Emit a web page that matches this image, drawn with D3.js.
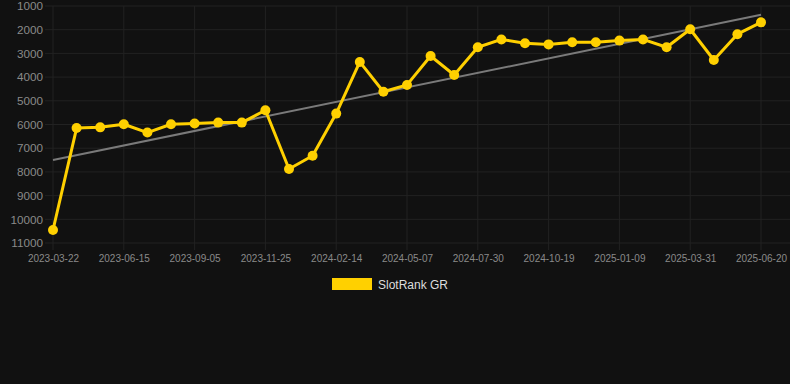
<!DOCTYPE html>
<html>
<head>
<meta charset="utf-8">
<script src="https://cdn.jsdelivr.net/npm/d3@7"></script>
<style>
  html, body { margin: 0; padding: 0; background: #111111; }
  svg { display: block; font-family: "Liberation Sans", Arial, sans-serif; }
</style>
</head>
<body>
<svg id="chart" width="790" height="384"></svg>
<script>
// dates, one per point (labels shown on every third)
const dates = [
  '2023-03-22', '2023-04-19', '2023-05-18', '2023-06-15', '2023-07-12', '2023-08-09',
  '2023-09-05', '2023-10-02', '2023-10-29', '2023-11-25', '2023-12-22', '2024-01-18',
  '2024-02-14', '2024-03-12', '2024-04-09', '2024-05-07', '2024-06-04', '2024-07-02',
  '2024-07-30', '2024-08-26', '2024-09-22', '2024-10-19', '2024-11-15', '2024-12-12',
  '2025-01-09', '2025-02-05', '2025-03-04', '2025-03-31', '2025-04-27', '2025-05-24',
  '2025-06-20'
];
const rank = [
  10450, 6150, 6120, 5990, 6340, 5990, 5960, 5920, 5920, 5400,
  7880, 7320, 5540, 3360, 4620, 4330, 3110, 3910, 2740, 2410,
  2570, 2620, 2530, 2530, 2460, 2410, 2740, 1980, 3280, 2190,
  1690
];
const trend = [7500, 1370];   // start / end of trend line
const yTicks = [1000, 2000, 3000, 4000, 5000, 6000, 7000, 8000, 9000, 10000, 11000];
const seriesName = 'SlotRank GR';

const color = {
  line: '#ffd000',
  trend: '#7a7a7a',
  grid: '#222222',
  tick: '#8a8a8a',
  legend: '#dddddd'
};

const width = 790, height = 384;
const margin = { top: 6, right: 29, bottom: 141, left: 53 };

const svg = d3.select('#chart');

const x = d3.scalePoint(dates, [margin.left, width - margin.right]);
const y = d3.scaleLinear([1000, 11000], [margin.top, height - margin.bottom]);

// grid
const grid = svg.append('g').attr('class', 'grid');
grid.selectAll('.hline')
  .data(yTicks)
  .join('line')
    .attr('x1', margin.left - 8)
    .attr('x2', width)
    .attr('y1', d => y(d))
    .attr('y2', d => y(d))
    .attr('stroke', color.grid)
    .attr('stroke-width', 1);

const shownDates = dates.filter((d, i) => i % 3 === 0);
grid.selectAll('.vline')
  .data(shownDates)
  .join('line')
    .attr('x1', d => x(d))
    .attr('x2', d => x(d))
    .attr('y1', margin.top)
    .attr('y2', height - margin.bottom + 7)
    .attr('stroke', color.grid)
    .attr('stroke-width', 1);

// y axis
const yAxis = d3.axisLeft(y).tickValues(yTicks).tickSize(0).tickPadding(10).tickFormat(d3.format('d'));
svg.append('g')
  .attr('transform', `translate(${margin.left}, 0)`)
  .call(yAxis)
  .call(g => g.select('.domain').remove())
  .call(g => g.selectAll('text')
    .attr('fill', color.tick)
    .attr('font-size', 11.7)
    .attr('font-family', '"Liberation Sans", Arial, sans-serif'));

// x axis
const xAxis = d3.axisBottom(x).tickValues(shownDates).tickSize(0).tickPadding(12);
svg.append('g')
  .attr('transform', `translate(0, ${height - margin.bottom})`)
  .call(xAxis)
  .call(g => g.select('.domain').remove())
  .call(g => g.selectAll('text')
    .attr('fill', color.tick)
    .attr('font-size', 10)
    .attr('font-family', '"Liberation Sans", Arial, sans-serif'));

// trend line
svg.append('line')
  .attr('x1', x(dates[0]))
  .attr('x2', x(dates[dates.length - 1]))
  .attr('y1', y(trend[0]))
  .attr('y2', y(trend[1]))
  .attr('stroke', color.trend)
  .attr('stroke-width', 2);

// series
const line = d3.line()
  .x((d, i) => x(dates[i]))
  .y(d => y(d));
svg.append('path')
  .attr('d', line(rank))
  .attr('fill', 'none')
  .attr('stroke', color.line)
  .attr('stroke-width', 3)
  .attr('stroke-linejoin', 'round');

svg.append('g')
  .selectAll('circle')
  .data(rank)
  .join('circle')
    .attr('cx', (d, i) => x(dates[i]))
    .attr('cy', d => y(d))
    .attr('r', 5)
    .attr('fill', color.line);

// legend
const legend = svg.append('g').attr('transform', 'translate(332, 278)');
legend.append('rect')
  .attr('width', 40)
  .attr('height', 12)
  .attr('fill', color.line);
legend.append('text')
  .attr('x', 46)
  .attr('y', 10.5)
  .attr('fill', color.legend)
  .attr('font-size', 12)
  .text(seriesName);
</script>
</body>
</html>
